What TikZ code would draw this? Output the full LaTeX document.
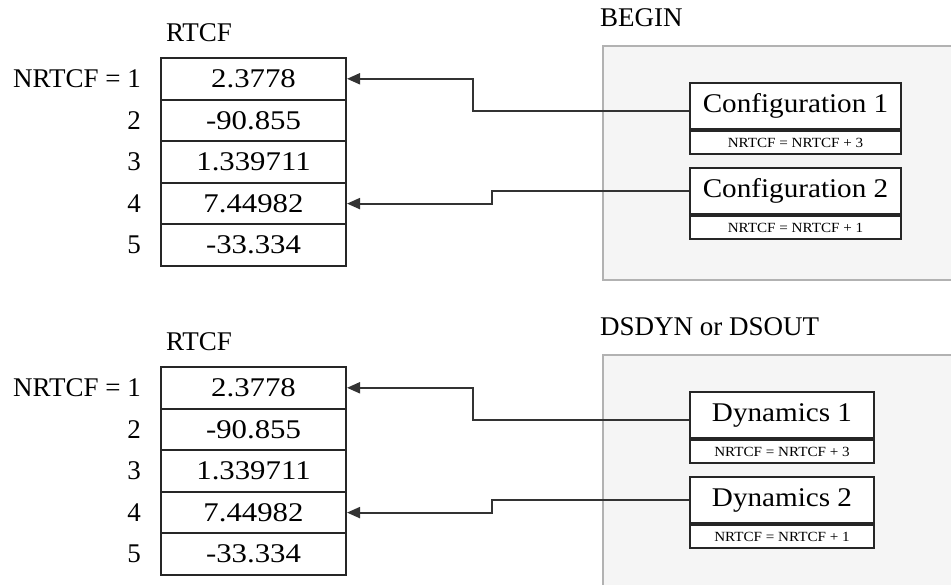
\documentclass[tikz,border=0pt]{standalone}
\usepackage{fontspec}
\setmainfont{Liberation Serif}
\newfontfamily\widenum{Liberation Serif}[FakeStretch=1.14]
\newfontfamily\widetxt{Liberation Serif}[FakeStretch=1.08]
\usetikzlibrary{arrows.meta}
\newcommand\fsz[1]{\fontsize{#1}{#1}\selectfont}
\tikzset{
 cell/.style={draw=black!85, line width=2pt, minimum width=185pt, minimum height=41.6pt, inner sep=0pt, font=\widenum\fsz{27}},
 idx/.style={anchor=east, inner sep=0pt, font=\fsz{27}},
 ttl/.style={anchor=west, inner sep=0pt, font=\fsz{27}},
 head/.style={inner sep=0pt, font=\fsz{27}},
 panel/.style={draw=black!30, line width=2.2pt, fill=black!4, anchor=north west, minimum width=420pt, minimum height=234pt, inner sep=0pt},
 headbox/.style={draw=black!85, fill=white, line width=2pt, anchor=north west, minimum height=46pt, inner sep=0pt, font=\widetxt\fsz{27}},
 subbox/.style={draw=black!85, fill=white, line width=2pt, anchor=north west, minimum height=23pt, inner sep=0pt, font=\widetxt\fsz{14}},
 conn/.style={draw=black!80, line width=2pt, -{Triangle[length=13pt,width=11pt]}},
}
\begin{document}
\begin{tikzpicture}[x=1pt, y=-1pt]
\useasboundingbox (0,0) rectangle (951,585);
\clip (0,0) rectangle (951,585);
% ---------- top panel ----------
\node[ttl] (t-title) at (600,18) {BEGIN};
\node[panel] (t-panel) at (602,45) {};
\node[head] (t-rtcf) at (199,33) {RTCF};
\foreach \i/\v in {1/2.3778, 2/-90.855, 3/1.339711, 4/7.44982, 5/-33.334}
  \node[cell] (t-r\i) at (253.5,{58+20.8*(2*\i-1)}) {\v};
\node[idx] (t-l1) at (141,{58+20.8}) {NRTCF = 1};
\foreach \i in {2,...,5}
  \node[idx] (t-l\i) at (141,{58+20.8*(2*\i-1)}) {\i};
\node[headbox, minimum width=211pt] (t-c1) at (689,82) {Configuration 1};
\node[subbox, minimum width=211pt] (t-c1s) at (t-c1.south west) {NRTCF = NRTCF + 3};
\node[headbox, minimum width=211pt] (t-c2) at (689,167) {Configuration 2};
\node[subbox, minimum width=211pt] (t-c2s) at (t-c2.south west) {NRTCF = NRTCF + 1};
\draw[conn] ([yshift=-5pt]t-c1.west) -- ++(-216,0) |- (t-r1.east);
\draw[conn] (t-c2.west) -- ++(-197,0) |- (t-r4.east);
% ---------- bottom panel ----------
\node[ttl] (b-title) at (600,327) {DSDYN or DSOUT};
\node[panel, minimum height=260pt] (b-panel) at (602,354) {};
\node[head] (b-rtcf) at (199,342) {RTCF};
\foreach \i/\v in {1/2.3778, 2/-90.855, 3/1.339711, 4/7.44982, 5/-33.334}
  \node[cell] (b-r\i) at (253.5,{367+20.8*(2*\i-1)}) {\v};
\node[idx] (b-l1) at (141,{367+20.8}) {NRTCF = 1};
\foreach \i in {2,...,5}
  \node[idx] (b-l\i) at (141,{367+20.8*(2*\i-1)}) {\i};
\node[headbox, minimum width=184pt] (b-c1) at (689,391) {Dynamics 1};
\node[subbox, minimum width=184pt] (b-c1s) at (b-c1.south west) {NRTCF = NRTCF + 3};
\node[headbox, minimum width=184pt] (b-c2) at (689,476) {Dynamics 2};
\node[subbox, minimum width=184pt] (b-c2s) at (b-c2.south west) {NRTCF = NRTCF + 1};
\draw[conn] ([yshift=-5pt]b-c1.west) -- ++(-216,0) |- (b-r1.east);
\draw[conn] (b-c2.west) -- ++(-197,0) |- (b-r4.east);
\end{tikzpicture}
\end{document}
